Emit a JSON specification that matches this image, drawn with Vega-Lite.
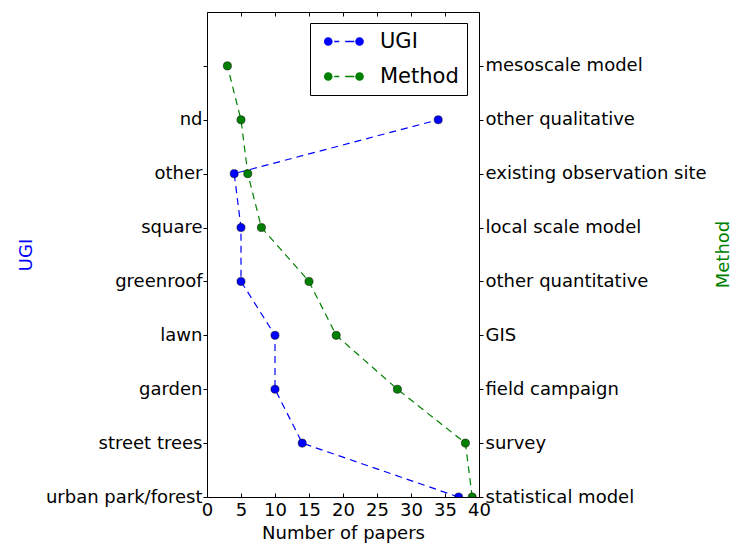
{
  "$schema": "https://vega.github.io/schema/vega-lite/v6.json",
  "width": 272,
  "height": 485,
  "autosize": "none",
  "padding": {"left": 207, "top": 12, "right": 253, "bottom": 46},
  "background": "white",
  "config": {
    "font": "DejaVu Sans",
    "view": {"stroke": "black", "strokeWidth": 1},
    "axis": {
      "grid": false,
      "domain": false,
      "labelFont": "DejaVu Sans",
      "titleFont": "DejaVu Sans",
      "labelFontSize": 18,
      "titleFontSize": 18,
      "titleFontWeight": "normal",
      "labelColor": "black",
      "titleColor": "black",
      "tickColor": "black",
      "tickWidth": 1,
      "labelLimit": 400
    }
  },
  "data": {
    "values": [
      {"series": "UGI", "idx": 0, "count": 37},
      {"series": "UGI", "idx": 1, "count": 14},
      {"series": "UGI", "idx": 2, "count": 10},
      {"series": "UGI", "idx": 3, "count": 10},
      {"series": "UGI", "idx": 4, "count": 5},
      {"series": "UGI", "idx": 5, "count": 5},
      {"series": "UGI", "idx": 6, "count": 4},
      {"series": "UGI", "idx": 7, "count": 34},
      {"series": "Method", "idx": 0, "count": 39},
      {"series": "Method", "idx": 1, "count": 38},
      {"series": "Method", "idx": 2, "count": 28},
      {"series": "Method", "idx": 3, "count": 19},
      {"series": "Method", "idx": 4, "count": 15},
      {"series": "Method", "idx": 5, "count": 8},
      {"series": "Method", "idx": 6, "count": 6},
      {"series": "Method", "idx": 7, "count": 5},
      {"series": "Method", "idx": 8, "count": 3}
    ]
  },
  "layer": [
    {
      "mark": {"type": "line", "strokeDash": [7, 5], "strokeWidth": 1.2, "clip": true},
      "encoding": {
        "x": {
          "field": "count", "type": "quantitative",
          "scale": {"domain": [0, 40], "nice": false, "zero": false},
          "axis": {"orient": "bottom", "values": [0, 5, 10, 15, 20, 25, 30, 35, 40], "title": "Number of papers", "tickSize": -4, "labelPadding": 8, "titlePadding": 5, "labelFlush": false}
        },
        "y": {
          "field": "idx", "type": "quantitative",
          "scale": {"domain": [0, 9], "nice": false, "zero": false},
          "axis": {
            "orient": "left",
            "values": [0, 1, 2, 3, 4, 5, 6, 7, 8],
            "labelExpr": "['urban park/forest','street trees','garden','lawn','greenroof','square','other','nd',''][datum.value]",
            "tickSize": 4,
            "labelPadding": 1,
            "labelFlush": false,
            "title": "UGI",
            "titleColor": "#0000ff",
            "titlePadding": 10
          }
        },
        "color": {
          "field": "series", "type": "nominal",
          "scale": {"domain": ["UGI", "Method"], "range": ["#0000ff", "#008000"]},
          "legend": {
            "title": null,
            "orient": "none",
            "legendX": 103,
            "legendY": 11,
            "strokeColor": "black",
            "fillColor": "white",
            "padding": 8,
            "cornerRadius": 0,
            "labelFontSize": 21,
            "labelFont": "DejaVu Sans",
            "labelColor": "black",
            "labelOffset": 41,
            "rowPadding": 13,
            "symbolSize": 256,
            "symbolStrokeWidth": 0,
            "symbolType": "M-0.57,0a0.54,0.54 0 1,0 1.08,0a0.54,0.54 0 1,0 -1.08,0Z M3.34,0a0.54,0.54 0 1,0 1.08,0a0.54,0.54 0 1,0 -1.08,0Z M0.72,-0.08h0.62v0.16h-0.62Z M2.09,-0.08h1.13v0.16h-1.13Z",
            "encode": {"symbols": {"update": {"fill": {"scale": "color", "field": "value"}, "strokeWidth": {"value": 0}}}}
          }
        },
        "order": {"field": "idx", "type": "quantitative"}
      }
    },
    {
      "mark": {"type": "circle", "size": 66, "opacity": 1, "stroke": "#000000", "strokeWidth": 0.5, "clip": true},
      "encoding": {
        "x": {
          "field": "count", "type": "quantitative",
          "axis": {"orient": "top", "values": [0, 5, 10, 15, 20, 25, 30, 35, 40], "tickSize": -4, "labels": false, "title": null}
        },
        "y": {
          "field": "idx", "type": "quantitative",
          "axis": {
            "orient": "right",
            "values": [0, 1, 2, 3, 4, 5, 6, 7, 8],
            "labelExpr": "['statistical model','survey','field campaign','GIS','other quantitative','local scale model','existing observation site','other qualitative','mesoscale model'][datum.value]",
            "tickSize": 4,
            "labelPadding": 2,
            "labelFlush": false,
            "title": "Method",
            "titleColor": "#008000",
            "titleAngle": 270,
            "titleBaseline": "middle",
            "titleX": 244,
            "titleY": 242
          }
        },
        "color": {"field": "series", "type": "nominal"}
      }
    }
  ],
  "resolve": {"axis": {"x": "independent", "y": "independent"}}
}
